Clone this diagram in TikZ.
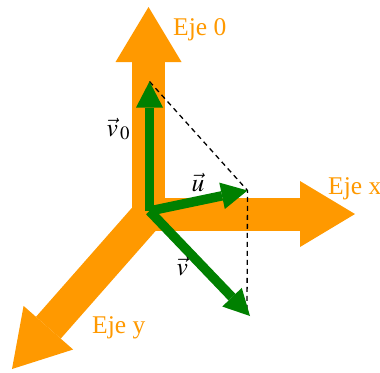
\documentclass[tikz,border=0pt]{standalone}
\usepackage{mathptmx}
\usepackage[no-math]{fontspec}
\setmainfont{Liberation Serif}
\usetikzlibrary{arrows.meta}

\begin{document}
\begin{tikzpicture}[x=1pt,y=-1pt,
	axis/.style={line width=\AxisWidth pt, draw=axiscolor,
		-{Triangle[length=\AxisHeadLength pt,width=\AxisHeadWidth pt,line width=0pt]}},
	vector/.style={line width=\VecWidth pt, draw=veccolor,
		-{Triangle[length=\VecHeadLength pt,width=\VecHeadWidth pt,line width=0pt]}},
	helpline/.style={draw=black, line width=1.3pt, dash pattern=on 5pt off 4pt},
	axislabel/.style={text=axiscolor, inner sep=0pt, anchor=base west, font=\fontsize{25.5}{30}\selectfont},
	veclabel/.style={inner sep=0pt, anchor=base west, font=\fontsize{25.5}{30}\selectfont}]

% ---------- Parameters of the drawing ----------
% Orange axes (all in pt, 1pt = 1 pixel of the picture)
\def\AxisWidth{33}        % Width of the shaft of an axis
\def\AxisHeadLength{55}   % Length of the head of an axis
\def\AxisHeadWidth{66}    % Width of the head of an axis

% Green vectors
\def\VecWidth{9.5}        % Width of the shaft of a vector
\def\VecHeadLength{26}    % Length of the head of a vector
\def\VecHeadWidth{27}     % Width of the head of a vector

% ---------- Colours ----------
\definecolor{axiscolor}{RGB}{255,153,0}
\definecolor{veccolor}{RGB}{0,128,0}

% Picture area, (0,0) = upper left corner
\useasboundingbox (0,0) rectangle (380,372);

% ---------- Points ----------
\coordinate (O) at (148.5,214);     % origin of the axes
\coordinate (eje0) at (148.5,7);
\coordinate (ejex) at (355,214);
\coordinate (ejey) at (12,369);

\coordinate (G) at (149.5,211);     % origin of the vectors
\coordinate (v0tip) at (149.5,81.5);
\coordinate (utip) at (247.5,190.5);
\coordinate (vtip) at (250,316);
\coordinate (ufoot) at (247,312);   % lower end of the vertical help line

% ---------- Axes ----------
\draw[axis] (O) -- (eje0);
\draw[axis] (O) -- (ejex);
\draw[axis] (O) -- (ejey);

\node[axislabel] (lab0) at (173,35) {Eje 0};
\node[axislabel] (labx) at (328,194) {Eje x};
\node[axislabel] (laby) at (92,333) {Eje y};

% ---------- Help lines ----------
\draw[helpline] (v0tip) -- (utip) -- (ufoot);

% ---------- Vectors ----------
\draw[vector] (G) -- (v0tip);
\draw[vector] (G) -- (utip);
\draw[vector] (G) -- (vtip);

\node[veclabel] (labv0) at (106.5,136) {$\vec{v}_{\,0}$};
\node[veclabel] (labu) at (191.5,191) {$\vec{u}$};
\node[veclabel] (labv) at (176.5,275) {$\vec{v}$};

\end{tikzpicture}
\end{document}
